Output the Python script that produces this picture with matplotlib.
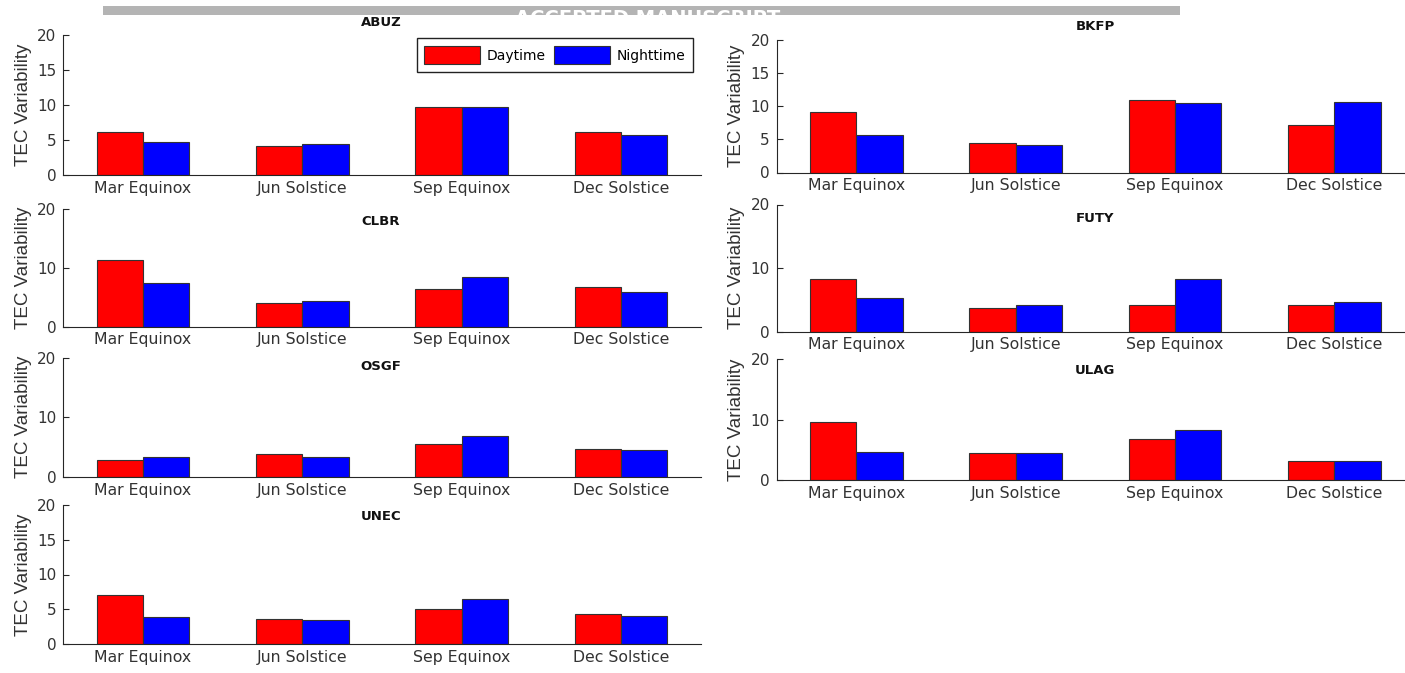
import matplotlib
matplotlib.use("Agg")
import matplotlib.pyplot as plt
from matplotlib.patches import Rectangle, Patch
import numpy as np

# Seasons on the x axis
seasons = ["Mar Equinox", "Jun Solstice", "Sep Equinox", "Dec Solstice"]

# TEC variability per station: daytime / nighttime
abuz_day = [6.2, 4.1, 9.7, 6.2]
abuz_night = [4.7, 4.5, 9.7, 5.7]
bkfp_day = [9.2, 4.4, 10.9, 7.1]
bkfp_night = [5.7, 4.1, 10.5, 10.7]
clbr_day = [11.4, 4.0, 6.4, 6.8]
clbr_night = [7.4, 4.4, 8.4, 5.8]
futy_day = [8.2, 3.7, 4.2, 4.2]
futy_night = [5.2, 4.2, 8.3, 4.6]
osgf_day = [2.9, 3.9, 5.5, 4.7]
osgf_night = [3.3, 3.3, 6.9, 4.5]
ulag_day = [9.6, 4.5, 6.8, 3.1]
ulag_night = [4.7, 4.5, 8.3, 3.1]
unec_day = [7.0, 3.6, 5.0, 4.3]
unec_night = [3.9, 3.4, 6.5, 4.1]

W, H = 1405, 673
fig = plt.figure(figsize=(W / 100, H / 100), dpi=100)

AX_COL = "#262626"
TXT_COL = "#333333"
DAY_COL = "#ff0000"
NIGHT_COL = "#0000ff"
EDGE_COL = "#333333"


def px_rect(x0, x1, y0, y1):
    return [x0 / W, 1 - y1 / H, (x1 - x0) / W, (y1 - y0) / H]


# (name, day, night, x-range px, y-range px, yticks, title position px)
panels = [
    ("ABUZ", abuz_day, abuz_night, (63.3, 700.7), (35, 175), [0, 5, 10, 15, 20], (381, 22)),
    ("CLBR", clbr_day, clbr_night, (63.3, 700.7), (209, 326.5), [0, 10, 20], (381, 222)),
    ("OSGF", osgf_day, osgf_night, (63.3, 700.7), (357.5, 477), [0, 10, 20], (381, 367)),
    ("UNEC", unec_day, unec_night, (63.3, 700.7), (505, 644), [0, 5, 10, 15, 20], (381, 517)),
    ("BKFP", bkfp_day, bkfp_night, (776.7, 1414), (40, 172.5), [0, 5, 10, 15, 20], (1095, 27)),
    ("FUTY", futy_day, futy_night, (776.7, 1414), (204.5, 331.5), [0, 10, 20], (1095, 219)),
    ("ULAG", ulag_day, ulag_night, (776.7, 1414), (359, 480), [0, 10, 20], (1095, 370)),
]

# header strip with a white stamp running across its lower edge
strip = Rectangle((103 / W, 1 - 15 / H), (1180 - 103) / W, 9 / H,
                  transform=fig.transFigure, facecolor="#b4b4b4",
                  edgecolor="none", zorder=-2)
fig.patches.append(strip)
stamp = fig.text(648 / W, 1 - 9 / H, "ACCEPTED MANUSCRIPT", color="white",
                 fontsize=14, fontweight="bold", ha="center", va="top",
                 family="DejaVu Sans", zorder=-1)
stamp.set_clip_path(strip)

x = np.arange(1, len(seasons) + 1)
bw = 0.29
axes = {}
for name, day, night, (x0, x1), (y0, y1), yt, (tx, ty) in panels:
    ax = fig.add_axes(px_rect(x0, x1, y0, y1))
    axes[name] = ax
    ax.bar(x - bw / 2, day, width=bw, color=DAY_COL, edgecolor=EDGE_COL,
           linewidth=0.8, label="Daytime")
    ax.bar(x + bw / 2, night, width=bw, color=NIGHT_COL, edgecolor=EDGE_COL,
           linewidth=0.8, label="Nighttime")
    ax.set_xlim(0.5, 4.5)
    ax.set_ylim(0, 20)
    ax.set_yticks(yt)
    ax.set_xticks(x)
    ax.set_xticklabels(seasons, family="DejaVu Sans", fontsize=11.3, color=TXT_COL)
    for lab in ax.get_yticklabels():
        lab.set_family("DejaVu Sans")
        lab.set_fontsize(11)
        lab.set_color(TXT_COL)
    ax.tick_params(axis="x", length=0, pad=4)
    ax.tick_params(axis="y", direction="in", length=4, width=0.8, colors=AX_COL,
                   pad=5, labelcolor=TXT_COL)
    for s in ("top", "right"):
        ax.spines[s].set_visible(False)
    for s in ("left", "bottom"):
        ax.spines[s].set_color(AX_COL)
        ax.spines[s].set_linewidth(0.8)
    ax.set_ylabel("TEC Variability", family="Liberation Sans", fontsize=13.5,
                  color=TXT_COL, labelpad=4)
    fig.text(tx / W, 1 - ty / H, name, ha="center", va="center", fontsize=9.5,
             fontweight="bold", family="DejaVu Sans", color="#111111")

handles = [Patch(facecolor=DAY_COL, edgecolor=EDGE_COL, linewidth=0.8, label="Daytime"),
           Patch(facecolor=NIGHT_COL, edgecolor=EDGE_COL, linewidth=0.8, label="Nighttime")]
leg = axes["ABUZ"].legend(handles=handles, loc="upper right", ncol=2,
                          bbox_to_anchor=(693 / W, 1 - 38 / H),
                          bbox_transform=fig.transFigure,
                          prop={"family": "DejaVu Sans", "size": 10},
                          handlelength=4.0, handleheight=1.7, handletextpad=0.5,
                          columnspacing=0.6, borderpad=0.55, borderaxespad=0,
                          fancybox=False, framealpha=1, edgecolor="#222222")
leg.get_frame().set_linewidth(1.0)

fig.savefig("out.png", dpi=100)
